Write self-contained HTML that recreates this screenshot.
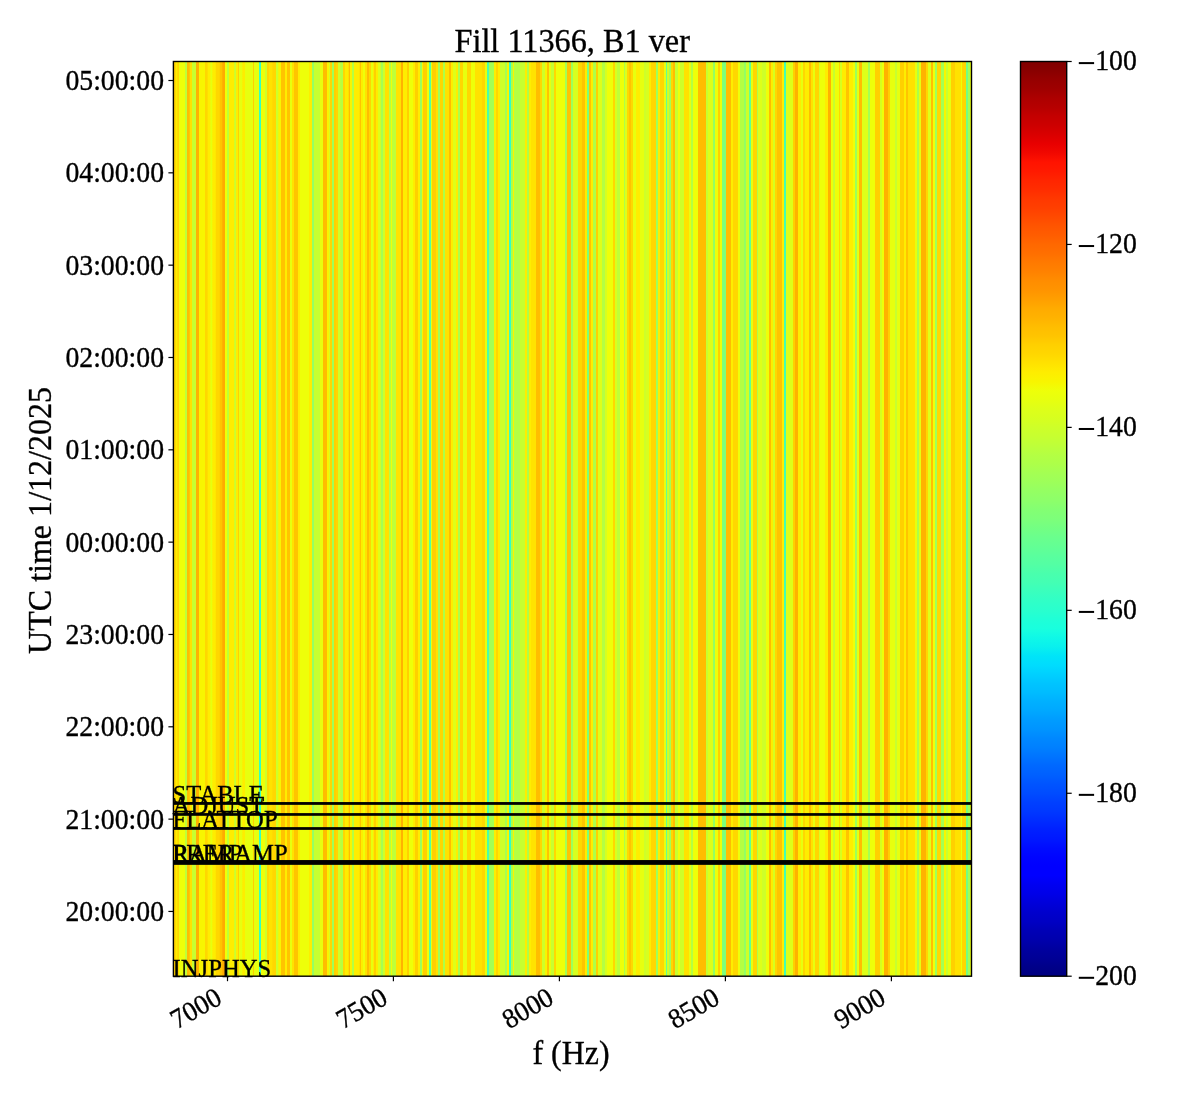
<!DOCTYPE html><html><head><meta charset="utf-8"><style>
html,body{margin:0;padding:0;background:#fff;width:1200px;height:1100px;overflow:hidden}
svg{display:block;will-change:transform}
text{font-family:"Liberation Serif",serif;fill:#000;stroke:#000;stroke-width:0.35px}
</style></head><body>
<svg width="1200" height="1100" viewBox="0 0 1200 1100">
<defs><linearGradient id="cb" x1="0" y1="0" x2="0" y2="1"><stop offset="0.00" stop-color="#800000"/><stop offset="0.01" stop-color="#890000"/><stop offset="0.02" stop-color="#960000"/><stop offset="0.03" stop-color="#9f0000"/><stop offset="0.04" stop-color="#ad0000"/><stop offset="0.05" stop-color="#b60000"/><stop offset="0.06" stop-color="#c40000"/><stop offset="0.07" stop-color="#cd0000"/><stop offset="0.08" stop-color="#da0000"/><stop offset="0.09" stop-color="#e80000"/><stop offset="0.10" stop-color="#f10800"/><stop offset="0.11" stop-color="#ff1300"/><stop offset="0.12" stop-color="#ff1a00"/><stop offset="0.13" stop-color="#ff2500"/><stop offset="0.14" stop-color="#ff2d00"/><stop offset="0.15" stop-color="#ff3800"/><stop offset="0.16" stop-color="#ff3f00"/><stop offset="0.17" stop-color="#ff4a00"/><stop offset="0.18" stop-color="#ff5500"/><stop offset="0.19" stop-color="#ff5d00"/><stop offset="0.20" stop-color="#ff6800"/><stop offset="0.21" stop-color="#ff6f00"/><stop offset="0.22" stop-color="#ff7a00"/><stop offset="0.23" stop-color="#ff8200"/><stop offset="0.24" stop-color="#ff8d00"/><stop offset="0.25" stop-color="#ff9400"/><stop offset="0.26" stop-color="#ff9f00"/><stop offset="0.27" stop-color="#ffab00"/><stop offset="0.28" stop-color="#ffb200"/><stop offset="0.29" stop-color="#ffbd00"/><stop offset="0.30" stop-color="#ffc400"/><stop offset="0.31" stop-color="#ffd000"/><stop offset="0.32" stop-color="#ffd700"/><stop offset="0.33" stop-color="#ffe200"/><stop offset="0.34" stop-color="#feed00"/><stop offset="0.35" stop-color="#f8f500"/><stop offset="0.36" stop-color="#eeff09"/><stop offset="0.37" stop-color="#e7ff0f"/><stop offset="0.38" stop-color="#deff19"/><stop offset="0.39" stop-color="#d7ff1f"/><stop offset="0.40" stop-color="#ceff29"/><stop offset="0.41" stop-color="#c7ff30"/><stop offset="0.42" stop-color="#beff39"/><stop offset="0.43" stop-color="#b4ff43"/><stop offset="0.44" stop-color="#adff49"/><stop offset="0.45" stop-color="#a4ff53"/><stop offset="0.46" stop-color="#9dff5a"/><stop offset="0.47" stop-color="#94ff63"/><stop offset="0.48" stop-color="#8dff6a"/><stop offset="0.49" stop-color="#83ff73"/><stop offset="0.50" stop-color="#7dff7a"/><stop offset="0.51" stop-color="#73ff83"/><stop offset="0.52" stop-color="#6aff8d"/><stop offset="0.53" stop-color="#63ff94"/><stop offset="0.54" stop-color="#5aff9d"/><stop offset="0.55" stop-color="#53ffa4"/><stop offset="0.56" stop-color="#49ffad"/><stop offset="0.57" stop-color="#43ffb4"/><stop offset="0.58" stop-color="#39ffbe"/><stop offset="0.59" stop-color="#30ffc7"/><stop offset="0.60" stop-color="#29ffce"/><stop offset="0.61" stop-color="#1fffd7"/><stop offset="0.62" stop-color="#19ffde"/><stop offset="0.63" stop-color="#0ff8e7"/><stop offset="0.64" stop-color="#09f0ee"/><stop offset="0.65" stop-color="#00e4f8"/><stop offset="0.66" stop-color="#00dcfe"/><stop offset="0.67" stop-color="#00d0ff"/><stop offset="0.68" stop-color="#00c4ff"/><stop offset="0.69" stop-color="#00bcff"/><stop offset="0.70" stop-color="#00b0ff"/><stop offset="0.71" stop-color="#00a8ff"/><stop offset="0.72" stop-color="#009cff"/><stop offset="0.73" stop-color="#0094ff"/><stop offset="0.74" stop-color="#0088ff"/><stop offset="0.75" stop-color="#0080ff"/><stop offset="0.76" stop-color="#0074ff"/><stop offset="0.77" stop-color="#0068ff"/><stop offset="0.78" stop-color="#0060ff"/><stop offset="0.79" stop-color="#0054ff"/><stop offset="0.80" stop-color="#004cff"/><stop offset="0.81" stop-color="#0040ff"/><stop offset="0.82" stop-color="#0038ff"/><stop offset="0.83" stop-color="#002cff"/><stop offset="0.84" stop-color="#0020ff"/><stop offset="0.85" stop-color="#0018ff"/><stop offset="0.86" stop-color="#000cff"/><stop offset="0.87" stop-color="#0004ff"/><stop offset="0.88" stop-color="#0000ff"/><stop offset="0.89" stop-color="#0000ff"/><stop offset="0.90" stop-color="#0000f1"/><stop offset="0.91" stop-color="#0000e8"/><stop offset="0.92" stop-color="#0000da"/><stop offset="0.93" stop-color="#0000cd"/><stop offset="0.94" stop-color="#0000c4"/><stop offset="0.95" stop-color="#0000b6"/><stop offset="0.96" stop-color="#0000ad"/><stop offset="0.97" stop-color="#00009f"/><stop offset="0.98" stop-color="#000096"/><stop offset="0.99" stop-color="#000089"/><stop offset="1.00" stop-color="#000080"/></linearGradient>
<linearGradient id="st" x1="0" y1="0" x2="1" y2="0"><stop offset="0.0013" stop-color="#ffd000"/><stop offset="0.0023" stop-color="#ffd000"/><stop offset="0.0033" stop-color="#feed00"/><stop offset="0.0044" stop-color="#feed00"/><stop offset="0.0054" stop-color="#ffd700"/><stop offset="0.0065" stop-color="#ffd700"/><stop offset="0.0075" stop-color="#eeff09"/><stop offset="0.0140" stop-color="#eeff09"/><stop offset="0.0150" stop-color="#beff39"/><stop offset="0.0165" stop-color="#beff39"/><stop offset="0.0175" stop-color="#ffbd00"/><stop offset="0.0199" stop-color="#ffbd00"/><stop offset="0.0209" stop-color="#ffe200"/><stop offset="0.0228" stop-color="#ffe200"/><stop offset="0.0238" stop-color="#c7ff30"/><stop offset="0.0278" stop-color="#c7ff30"/><stop offset="0.0288" stop-color="#ffb200"/><stop offset="0.0316" stop-color="#ffb200"/><stop offset="0.0326" stop-color="#f8f500"/><stop offset="0.0391" stop-color="#f8f500"/><stop offset="0.0401" stop-color="#ffd700"/><stop offset="0.0424" stop-color="#ffd700"/><stop offset="0.0434" stop-color="#feed00"/><stop offset="0.0458" stop-color="#feed00"/><stop offset="0.0468" stop-color="#e7ff0f"/><stop offset="0.0483" stop-color="#e7ff0f"/><stop offset="0.0493" stop-color="#feed00"/><stop offset="0.0525" stop-color="#feed00"/><stop offset="0.0535" stop-color="#ffd700"/><stop offset="0.0575" stop-color="#ffd700"/><stop offset="0.0585" stop-color="#ffc400"/><stop offset="0.0608" stop-color="#ffc400"/><stop offset="0.0618" stop-color="#ffab00"/><stop offset="0.0642" stop-color="#ffab00"/><stop offset="0.0652" stop-color="#eeff09"/><stop offset="0.0667" stop-color="#eeff09"/><stop offset="0.0677" stop-color="#beff39"/><stop offset="0.0692" stop-color="#beff39"/><stop offset="0.0702" stop-color="#feed00"/><stop offset="0.0758" stop-color="#feed00"/><stop offset="0.0768" stop-color="#c7ff30"/><stop offset="0.0779" stop-color="#c7ff30"/><stop offset="0.0789" stop-color="#feed00"/><stop offset="0.0804" stop-color="#feed00"/><stop offset="0.0814" stop-color="#ffd000"/><stop offset="0.0817" stop-color="#ffd000"/><stop offset="0.0827" stop-color="#e7ff0f"/><stop offset="0.0859" stop-color="#e7ff0f"/><stop offset="0.0869" stop-color="#feed00"/><stop offset="0.0892" stop-color="#feed00"/><stop offset="0.0902" stop-color="#e7ff0f"/><stop offset="0.0992" stop-color="#e7ff0f"/><stop offset="0.1002" stop-color="#ffd000"/><stop offset="0.1005" stop-color="#ffd000"/><stop offset="0.1015" stop-color="#e7ff0f"/><stop offset="0.1068" stop-color="#e7ff0f"/><stop offset="0.1078" stop-color="#30ffc7"/><stop offset="0.1093" stop-color="#30ffc7"/><stop offset="0.1103" stop-color="#eeff09"/><stop offset="0.1143" stop-color="#eeff09"/><stop offset="0.1153" stop-color="#ceff29"/><stop offset="0.1168" stop-color="#ceff29"/><stop offset="0.1178" stop-color="#ffd700"/><stop offset="0.1193" stop-color="#ffd700"/><stop offset="0.1203" stop-color="#ffe200"/><stop offset="0.1235" stop-color="#ffe200"/><stop offset="0.1245" stop-color="#ffd700"/><stop offset="0.1281" stop-color="#ffd700"/><stop offset="0.1291" stop-color="#ceff29"/><stop offset="0.1310" stop-color="#ceff29"/><stop offset="0.1320" stop-color="#f8f500"/><stop offset="0.1343" stop-color="#f8f500"/><stop offset="0.1353" stop-color="#ffc400"/><stop offset="0.1393" stop-color="#ffc400"/><stop offset="0.1403" stop-color="#feed00"/><stop offset="0.1418" stop-color="#feed00"/><stop offset="0.1428" stop-color="#ffc400"/><stop offset="0.1456" stop-color="#ffc400"/><stop offset="0.1466" stop-color="#e7ff0f"/><stop offset="0.1481" stop-color="#e7ff0f"/><stop offset="0.1491" stop-color="#ffe200"/><stop offset="0.1506" stop-color="#ffe200"/><stop offset="0.1516" stop-color="#ffc400"/><stop offset="0.1556" stop-color="#ffc400"/><stop offset="0.1566" stop-color="#feed00"/><stop offset="0.1581" stop-color="#feed00"/><stop offset="0.1591" stop-color="#eeff09"/><stop offset="0.1694" stop-color="#eeff09"/><stop offset="0.1704" stop-color="#feed00"/><stop offset="0.1732" stop-color="#feed00"/><stop offset="0.1742" stop-color="#94ff63"/><stop offset="0.1757" stop-color="#94ff63"/><stop offset="0.1767" stop-color="#c7ff30"/><stop offset="0.1832" stop-color="#c7ff30"/><stop offset="0.1842" stop-color="#e7ff0f"/><stop offset="0.1869" stop-color="#e7ff0f"/><stop offset="0.1879" stop-color="#ffbd00"/><stop offset="0.1920" stop-color="#ffbd00"/><stop offset="0.1930" stop-color="#f8f500"/><stop offset="0.1945" stop-color="#f8f500"/><stop offset="0.1955" stop-color="#d7ff1f"/><stop offset="0.1957" stop-color="#d7ff1f"/><stop offset="0.1967" stop-color="#ffd700"/><stop offset="0.1982" stop-color="#ffd700"/><stop offset="0.1992" stop-color="#9dff5a"/><stop offset="0.1995" stop-color="#9dff5a"/><stop offset="0.2005" stop-color="#9dff5a"/><stop offset="0.2007" stop-color="#9dff5a"/><stop offset="0.2017" stop-color="#ffd000"/><stop offset="0.2032" stop-color="#ffd000"/><stop offset="0.2042" stop-color="#ffd700"/><stop offset="0.2057" stop-color="#ffd700"/><stop offset="0.2067" stop-color="#ceff29"/><stop offset="0.2087" stop-color="#ceff29"/><stop offset="0.2097" stop-color="#b4ff43"/><stop offset="0.2120" stop-color="#b4ff43"/><stop offset="0.2130" stop-color="#ffd700"/><stop offset="0.2145" stop-color="#ffd700"/><stop offset="0.2155" stop-color="#feed00"/><stop offset="0.2191" stop-color="#feed00"/><stop offset="0.2201" stop-color="#ffbd00"/><stop offset="0.2208" stop-color="#ffbd00"/><stop offset="0.2218" stop-color="#f8f500"/><stop offset="0.2233" stop-color="#f8f500"/><stop offset="0.2243" stop-color="#b4ff43"/><stop offset="0.2258" stop-color="#b4ff43"/><stop offset="0.2268" stop-color="#feed00"/><stop offset="0.2329" stop-color="#feed00"/><stop offset="0.2339" stop-color="#ffc400"/><stop offset="0.2346" stop-color="#ffc400"/><stop offset="0.2356" stop-color="#feed00"/><stop offset="0.2371" stop-color="#feed00"/><stop offset="0.2381" stop-color="#eeff09"/><stop offset="0.2396" stop-color="#eeff09"/><stop offset="0.2406" stop-color="#ffe200"/><stop offset="0.2421" stop-color="#ffe200"/><stop offset="0.2431" stop-color="#ffbd00"/><stop offset="0.2446" stop-color="#ffbd00"/><stop offset="0.2456" stop-color="#ffd700"/><stop offset="0.2471" stop-color="#ffd700"/><stop offset="0.2481" stop-color="#e7ff0f"/><stop offset="0.2496" stop-color="#e7ff0f"/><stop offset="0.2506" stop-color="#feed00"/><stop offset="0.2508" stop-color="#feed00"/><stop offset="0.2518" stop-color="#ffd000"/><stop offset="0.2534" stop-color="#ffd000"/><stop offset="0.2544" stop-color="#feed00"/><stop offset="0.2559" stop-color="#feed00"/><stop offset="0.2569" stop-color="#deff19"/><stop offset="0.2592" stop-color="#deff19"/><stop offset="0.2602" stop-color="#a4ff53"/><stop offset="0.2621" stop-color="#a4ff53"/><stop offset="0.2631" stop-color="#ceff29"/><stop offset="0.2646" stop-color="#ceff29"/><stop offset="0.2656" stop-color="#ffe200"/><stop offset="0.2696" stop-color="#ffe200"/><stop offset="0.2706" stop-color="#b4ff43"/><stop offset="0.2721" stop-color="#b4ff43"/><stop offset="0.2731" stop-color="#eeff09"/><stop offset="0.2734" stop-color="#eeff09"/><stop offset="0.2744" stop-color="#beff39"/><stop offset="0.2784" stop-color="#beff39"/><stop offset="0.2794" stop-color="#ffe200"/><stop offset="0.2847" stop-color="#ffe200"/><stop offset="0.2857" stop-color="#ffb200"/><stop offset="0.2872" stop-color="#ffb200"/><stop offset="0.2882" stop-color="#feed00"/><stop offset="0.2922" stop-color="#feed00"/><stop offset="0.2932" stop-color="#ffd000"/><stop offset="0.2947" stop-color="#ffd000"/><stop offset="0.2957" stop-color="#eeff09"/><stop offset="0.2997" stop-color="#eeff09"/><stop offset="0.3007" stop-color="#feed00"/><stop offset="0.3022" stop-color="#feed00"/><stop offset="0.3032" stop-color="#ffd000"/><stop offset="0.3060" stop-color="#ffd000"/><stop offset="0.3070" stop-color="#feed00"/><stop offset="0.3085" stop-color="#feed00"/><stop offset="0.3095" stop-color="#9dff5a"/><stop offset="0.3110" stop-color="#9dff5a"/><stop offset="0.3120" stop-color="#f8f500"/><stop offset="0.3122" stop-color="#f8f500"/><stop offset="0.3132" stop-color="#ffd000"/><stop offset="0.3173" stop-color="#ffd000"/><stop offset="0.3183" stop-color="#eeff09"/><stop offset="0.3198" stop-color="#eeff09"/><stop offset="0.3208" stop-color="#53ffa4"/><stop offset="0.3223" stop-color="#53ffa4"/><stop offset="0.3233" stop-color="#e7ff0f"/><stop offset="0.3235" stop-color="#e7ff0f"/><stop offset="0.3245" stop-color="#ffd000"/><stop offset="0.3285" stop-color="#ffd000"/><stop offset="0.3295" stop-color="#ffe200"/><stop offset="0.3310" stop-color="#ffe200"/><stop offset="0.3320" stop-color="#9dff5a"/><stop offset="0.3335" stop-color="#9dff5a"/><stop offset="0.3345" stop-color="#ffd700"/><stop offset="0.3373" stop-color="#ffd700"/><stop offset="0.3383" stop-color="#adff49"/><stop offset="0.3398" stop-color="#adff49"/><stop offset="0.3408" stop-color="#ffe200"/><stop offset="0.3448" stop-color="#ffe200"/><stop offset="0.3458" stop-color="#ffbd00"/><stop offset="0.3473" stop-color="#ffbd00"/><stop offset="0.3483" stop-color="#feed00"/><stop offset="0.3498" stop-color="#feed00"/><stop offset="0.3508" stop-color="#deff19"/><stop offset="0.3536" stop-color="#deff19"/><stop offset="0.3546" stop-color="#feed00"/><stop offset="0.3561" stop-color="#feed00"/><stop offset="0.3571" stop-color="#adff49"/><stop offset="0.3586" stop-color="#adff49"/><stop offset="0.3596" stop-color="#ffd700"/><stop offset="0.3624" stop-color="#ffd700"/><stop offset="0.3634" stop-color="#e7ff0f"/><stop offset="0.3674" stop-color="#e7ff0f"/><stop offset="0.3684" stop-color="#ffd700"/><stop offset="0.3724" stop-color="#ffd700"/><stop offset="0.3734" stop-color="#eeff09"/><stop offset="0.3774" stop-color="#eeff09"/><stop offset="0.3784" stop-color="#ffe200"/><stop offset="0.3862" stop-color="#ffe200"/><stop offset="0.3872" stop-color="#ffd700"/><stop offset="0.3899" stop-color="#ffd700"/><stop offset="0.3909" stop-color="#e7ff0f"/><stop offset="0.3924" stop-color="#e7ff0f"/><stop offset="0.3934" stop-color="#49ffad"/><stop offset="0.3949" stop-color="#49ffad"/><stop offset="0.3959" stop-color="#a4ff53"/><stop offset="0.3999" stop-color="#a4ff53"/><stop offset="0.4010" stop-color="#a4ff53"/><stop offset="0.4012" stop-color="#a4ff53"/><stop offset="0.4022" stop-color="#feed00"/><stop offset="0.4037" stop-color="#feed00"/><stop offset="0.4047" stop-color="#ffd700"/><stop offset="0.4062" stop-color="#ffd700"/><stop offset="0.4072" stop-color="#feed00"/><stop offset="0.4087" stop-color="#feed00"/><stop offset="0.4097" stop-color="#ceff29"/><stop offset="0.4150" stop-color="#ceff29"/><stop offset="0.4160" stop-color="#a4ff53"/><stop offset="0.4175" stop-color="#a4ff53"/><stop offset="0.4185" stop-color="#f8f500"/><stop offset="0.4200" stop-color="#f8f500"/><stop offset="0.4210" stop-color="#30ffc7"/><stop offset="0.4225" stop-color="#30ffc7"/><stop offset="0.4235" stop-color="#adff49"/><stop offset="0.4250" stop-color="#adff49"/><stop offset="0.4260" stop-color="#f8f500"/><stop offset="0.4263" stop-color="#f8f500"/><stop offset="0.4273" stop-color="#b4ff43"/><stop offset="0.4338" stop-color="#b4ff43"/><stop offset="0.4348" stop-color="#c7ff30"/><stop offset="0.4400" stop-color="#c7ff30"/><stop offset="0.4410" stop-color="#feed00"/><stop offset="0.4426" stop-color="#feed00"/><stop offset="0.4436" stop-color="#adff49"/><stop offset="0.4451" stop-color="#adff49"/><stop offset="0.4461" stop-color="#feed00"/><stop offset="0.4476" stop-color="#feed00"/><stop offset="0.4486" stop-color="#ffe200"/><stop offset="0.4538" stop-color="#ffe200"/><stop offset="0.4548" stop-color="#ffbd00"/><stop offset="0.4588" stop-color="#ffbd00"/><stop offset="0.4598" stop-color="#ffd700"/><stop offset="0.4613" stop-color="#ffd700"/><stop offset="0.4623" stop-color="#ceff29"/><stop offset="0.4651" stop-color="#ceff29"/><stop offset="0.4661" stop-color="#f8f500"/><stop offset="0.4676" stop-color="#f8f500"/><stop offset="0.4686" stop-color="#ffc400"/><stop offset="0.4701" stop-color="#ffc400"/><stop offset="0.4711" stop-color="#e7ff0f"/><stop offset="0.4726" stop-color="#e7ff0f"/><stop offset="0.4736" stop-color="#c7ff30"/><stop offset="0.4764" stop-color="#c7ff30"/><stop offset="0.4774" stop-color="#ffd700"/><stop offset="0.4789" stop-color="#ffd700"/><stop offset="0.4799" stop-color="#eeff09"/><stop offset="0.4902" stop-color="#eeff09"/><stop offset="0.4912" stop-color="#a4ff53"/><stop offset="0.4927" stop-color="#a4ff53"/><stop offset="0.4937" stop-color="#ffc400"/><stop offset="0.4977" stop-color="#ffc400"/><stop offset="0.4987" stop-color="#9dff5a"/><stop offset="0.5002" stop-color="#9dff5a"/><stop offset="0.5012" stop-color="#d7ff1f"/><stop offset="0.5065" stop-color="#d7ff1f"/><stop offset="0.5075" stop-color="#ffd700"/><stop offset="0.5115" stop-color="#ffd700"/><stop offset="0.5125" stop-color="#ffc400"/><stop offset="0.5152" stop-color="#ffc400"/><stop offset="0.5162" stop-color="#feed00"/><stop offset="0.5177" stop-color="#feed00"/><stop offset="0.5187" stop-color="#7dff7a"/><stop offset="0.5202" stop-color="#7dff7a"/><stop offset="0.5212" stop-color="#ffc400"/><stop offset="0.5227" stop-color="#ffc400"/><stop offset="0.5237" stop-color="#feed00"/><stop offset="0.5252" stop-color="#feed00"/><stop offset="0.5262" stop-color="#adff49"/><stop offset="0.5290" stop-color="#adff49"/><stop offset="0.5300" stop-color="#ffd000"/><stop offset="0.5315" stop-color="#ffd000"/><stop offset="0.5325" stop-color="#deff19"/><stop offset="0.5365" stop-color="#deff19"/><stop offset="0.5375" stop-color="#b4ff43"/><stop offset="0.5403" stop-color="#b4ff43"/><stop offset="0.5413" stop-color="#d7ff1f"/><stop offset="0.5428" stop-color="#d7ff1f"/><stop offset="0.5438" stop-color="#eeff09"/><stop offset="0.5503" stop-color="#eeff09"/><stop offset="0.5513" stop-color="#ffd700"/><stop offset="0.5528" stop-color="#ffd700"/><stop offset="0.5538" stop-color="#d7ff1f"/><stop offset="0.5553" stop-color="#d7ff1f"/><stop offset="0.5563" stop-color="#beff39"/><stop offset="0.5591" stop-color="#beff39"/><stop offset="0.5601" stop-color="#eeff09"/><stop offset="0.5641" stop-color="#eeff09"/><stop offset="0.5651" stop-color="#adff49"/><stop offset="0.5653" stop-color="#adff49"/><stop offset="0.5663" stop-color="#deff19"/><stop offset="0.5678" stop-color="#deff19"/><stop offset="0.5689" stop-color="#ffd700"/><stop offset="0.5704" stop-color="#ffd700"/><stop offset="0.5714" stop-color="#ffc400"/><stop offset="0.5729" stop-color="#ffc400"/><stop offset="0.5739" stop-color="#ffd700"/><stop offset="0.5754" stop-color="#ffd700"/><stop offset="0.5764" stop-color="#e7ff0f"/><stop offset="0.5791" stop-color="#e7ff0f"/><stop offset="0.5801" stop-color="#feed00"/><stop offset="0.5841" stop-color="#feed00"/><stop offset="0.5851" stop-color="#e7ff0f"/><stop offset="0.5891" stop-color="#e7ff0f"/><stop offset="0.5902" stop-color="#ceff29"/><stop offset="0.5917" stop-color="#ceff29"/><stop offset="0.5927" stop-color="#d7ff1f"/><stop offset="0.5954" stop-color="#d7ff1f"/><stop offset="0.5964" stop-color="#feed00"/><stop offset="0.5979" stop-color="#feed00"/><stop offset="0.5989" stop-color="#ffd700"/><stop offset="0.6004" stop-color="#ffd700"/><stop offset="0.6014" stop-color="#ffd700"/><stop offset="0.6042" stop-color="#ffd700"/><stop offset="0.6052" stop-color="#9dff5a"/><stop offset="0.6067" stop-color="#9dff5a"/><stop offset="0.6077" stop-color="#feed00"/><stop offset="0.6092" stop-color="#feed00"/><stop offset="0.6102" stop-color="#ffd700"/><stop offset="0.6142" stop-color="#ffd700"/><stop offset="0.6152" stop-color="#e7ff0f"/><stop offset="0.6167" stop-color="#e7ff0f"/><stop offset="0.6177" stop-color="#63ff94"/><stop offset="0.6180" stop-color="#63ff94"/><stop offset="0.6190" stop-color="#ceff29"/><stop offset="0.6205" stop-color="#ceff29"/><stop offset="0.6215" stop-color="#a4ff53"/><stop offset="0.6230" stop-color="#a4ff53"/><stop offset="0.6240" stop-color="#ffd700"/><stop offset="0.6255" stop-color="#ffd700"/><stop offset="0.6265" stop-color="#ffbd00"/><stop offset="0.6280" stop-color="#ffbd00"/><stop offset="0.6290" stop-color="#c7ff30"/><stop offset="0.6318" stop-color="#c7ff30"/><stop offset="0.6328" stop-color="#eeff09"/><stop offset="0.6343" stop-color="#eeff09"/><stop offset="0.6353" stop-color="#ceff29"/><stop offset="0.6393" stop-color="#ceff29"/><stop offset="0.6403" stop-color="#ffe200"/><stop offset="0.6455" stop-color="#ffe200"/><stop offset="0.6465" stop-color="#e7ff0f"/><stop offset="0.6480" stop-color="#e7ff0f"/><stop offset="0.6490" stop-color="#b4ff43"/><stop offset="0.6505" stop-color="#b4ff43"/><stop offset="0.6515" stop-color="#eeff09"/><stop offset="0.6568" stop-color="#eeff09"/><stop offset="0.6578" stop-color="#ffbd00"/><stop offset="0.6668" stop-color="#ffbd00"/><stop offset="0.6678" stop-color="#c7ff30"/><stop offset="0.6693" stop-color="#c7ff30"/><stop offset="0.6703" stop-color="#deff19"/><stop offset="0.6756" stop-color="#deff19"/><stop offset="0.6766" stop-color="#94ff63"/><stop offset="0.6781" stop-color="#94ff63"/><stop offset="0.6791" stop-color="#eeff09"/><stop offset="0.6819" stop-color="#eeff09"/><stop offset="0.6829" stop-color="#ffd000"/><stop offset="0.6844" stop-color="#ffd000"/><stop offset="0.6854" stop-color="#eeff09"/><stop offset="0.6869" stop-color="#eeff09"/><stop offset="0.6879" stop-color="#7dff7a"/><stop offset="0.6919" stop-color="#7dff7a"/><stop offset="0.6929" stop-color="#ffbd00"/><stop offset="0.6982" stop-color="#ffbd00"/><stop offset="0.6992" stop-color="#feed00"/><stop offset="0.7007" stop-color="#feed00"/><stop offset="0.7017" stop-color="#ffd700"/><stop offset="0.7069" stop-color="#ffd700"/><stop offset="0.7079" stop-color="#eeff09"/><stop offset="0.7094" stop-color="#eeff09"/><stop offset="0.7104" stop-color="#b4ff43"/><stop offset="0.7144" stop-color="#b4ff43"/><stop offset="0.7154" stop-color="#94ff63"/><stop offset="0.7170" stop-color="#94ff63"/><stop offset="0.7180" stop-color="#ceff29"/><stop offset="0.7207" stop-color="#ceff29"/><stop offset="0.7217" stop-color="#63ff94"/><stop offset="0.7232" stop-color="#63ff94"/><stop offset="0.7242" stop-color="#e7ff0f"/><stop offset="0.7257" stop-color="#e7ff0f"/><stop offset="0.7267" stop-color="#ffd700"/><stop offset="0.7307" stop-color="#ffd700"/><stop offset="0.7317" stop-color="#adff49"/><stop offset="0.7320" stop-color="#adff49"/><stop offset="0.7330" stop-color="#deff19"/><stop offset="0.7370" stop-color="#deff19"/><stop offset="0.7380" stop-color="#ceff29"/><stop offset="0.7420" stop-color="#ceff29"/><stop offset="0.7430" stop-color="#eeff09"/><stop offset="0.7458" stop-color="#eeff09"/><stop offset="0.7468" stop-color="#ffbd00"/><stop offset="0.7483" stop-color="#ffbd00"/><stop offset="0.7493" stop-color="#feed00"/><stop offset="0.7508" stop-color="#feed00"/><stop offset="0.7518" stop-color="#d7ff1f"/><stop offset="0.7533" stop-color="#d7ff1f"/><stop offset="0.7543" stop-color="#ffd700"/><stop offset="0.7558" stop-color="#ffd700"/><stop offset="0.7568" stop-color="#ffc400"/><stop offset="0.7621" stop-color="#ffc400"/><stop offset="0.7631" stop-color="#feed00"/><stop offset="0.7646" stop-color="#feed00"/><stop offset="0.7656" stop-color="#43ffb4"/><stop offset="0.7671" stop-color="#43ffb4"/><stop offset="0.7681" stop-color="#deff19"/><stop offset="0.7758" stop-color="#deff19"/><stop offset="0.7768" stop-color="#ffd000"/><stop offset="0.7783" stop-color="#ffd000"/><stop offset="0.7794" stop-color="#ffb200"/><stop offset="0.7821" stop-color="#ffb200"/><stop offset="0.7831" stop-color="#feed00"/><stop offset="0.7859" stop-color="#feed00"/><stop offset="0.7869" stop-color="#e7ff0f"/><stop offset="0.7884" stop-color="#e7ff0f"/><stop offset="0.7894" stop-color="#ffd700"/><stop offset="0.7909" stop-color="#ffd700"/><stop offset="0.7919" stop-color="#feed00"/><stop offset="0.7959" stop-color="#feed00"/><stop offset="0.7969" stop-color="#ffbd00"/><stop offset="0.7984" stop-color="#ffbd00"/><stop offset="0.7994" stop-color="#ffe200"/><stop offset="0.8009" stop-color="#ffe200"/><stop offset="0.8019" stop-color="#e7ff0f"/><stop offset="0.8034" stop-color="#e7ff0f"/><stop offset="0.8044" stop-color="#ffd700"/><stop offset="0.8084" stop-color="#ffd700"/><stop offset="0.8094" stop-color="#d7ff1f"/><stop offset="0.8097" stop-color="#d7ff1f"/><stop offset="0.8107" stop-color="#eeff09"/><stop offset="0.8159" stop-color="#eeff09"/><stop offset="0.8169" stop-color="#feed00"/><stop offset="0.8197" stop-color="#feed00"/><stop offset="0.8207" stop-color="#ffb200"/><stop offset="0.8235" stop-color="#ffb200"/><stop offset="0.8245" stop-color="#eeff09"/><stop offset="0.8260" stop-color="#eeff09"/><stop offset="0.8270" stop-color="#c7ff30"/><stop offset="0.8285" stop-color="#c7ff30"/><stop offset="0.8295" stop-color="#eeff09"/><stop offset="0.8335" stop-color="#eeff09"/><stop offset="0.8345" stop-color="#ffd700"/><stop offset="0.8347" stop-color="#ffd700"/><stop offset="0.8357" stop-color="#d7ff1f"/><stop offset="0.8372" stop-color="#d7ff1f"/><stop offset="0.8382" stop-color="#feed00"/><stop offset="0.8423" stop-color="#feed00"/><stop offset="0.8433" stop-color="#ffc400"/><stop offset="0.8460" stop-color="#ffc400"/><stop offset="0.8470" stop-color="#feed00"/><stop offset="0.8510" stop-color="#feed00"/><stop offset="0.8520" stop-color="#eeff09"/><stop offset="0.8535" stop-color="#eeff09"/><stop offset="0.8545" stop-color="#9dff5a"/><stop offset="0.8560" stop-color="#9dff5a"/><stop offset="0.8570" stop-color="#e7ff0f"/><stop offset="0.8585" stop-color="#e7ff0f"/><stop offset="0.8595" stop-color="#ffbd00"/><stop offset="0.8623" stop-color="#ffbd00"/><stop offset="0.8633" stop-color="#deff19"/><stop offset="0.8698" stop-color="#deff19"/><stop offset="0.8708" stop-color="#a4ff53"/><stop offset="0.8723" stop-color="#a4ff53"/><stop offset="0.8733" stop-color="#eeff09"/><stop offset="0.8786" stop-color="#eeff09"/><stop offset="0.8796" stop-color="#ffd000"/><stop offset="0.8849" stop-color="#ffd000"/><stop offset="0.8859" stop-color="#d7ff1f"/><stop offset="0.8874" stop-color="#d7ff1f"/><stop offset="0.8884" stop-color="#eeff09"/><stop offset="0.8899" stop-color="#eeff09"/><stop offset="0.8909" stop-color="#ffb200"/><stop offset="0.8949" stop-color="#ffb200"/><stop offset="0.8959" stop-color="#ffd000"/><stop offset="0.8974" stop-color="#ffd000"/><stop offset="0.8984" stop-color="#e7ff0f"/><stop offset="0.9011" stop-color="#e7ff0f"/><stop offset="0.9021" stop-color="#e7ff0f"/><stop offset="0.9036" stop-color="#e7ff0f"/><stop offset="0.9046" stop-color="#c7ff30"/><stop offset="0.9062" stop-color="#c7ff30"/><stop offset="0.9072" stop-color="#e7ff0f"/><stop offset="0.9099" stop-color="#e7ff0f"/><stop offset="0.9109" stop-color="#ffd000"/><stop offset="0.9149" stop-color="#ffd000"/><stop offset="0.9159" stop-color="#feed00"/><stop offset="0.9174" stop-color="#feed00"/><stop offset="0.9184" stop-color="#ffc400"/><stop offset="0.9199" stop-color="#ffc400"/><stop offset="0.9209" stop-color="#ffe200"/><stop offset="0.9287" stop-color="#ffe200"/><stop offset="0.9297" stop-color="#e7ff0f"/><stop offset="0.9312" stop-color="#e7ff0f"/><stop offset="0.9322" stop-color="#adff49"/><stop offset="0.9337" stop-color="#adff49"/><stop offset="0.9347" stop-color="#e7ff0f"/><stop offset="0.9362" stop-color="#e7ff0f"/><stop offset="0.9372" stop-color="#ffb200"/><stop offset="0.9425" stop-color="#ffb200"/><stop offset="0.9435" stop-color="#ffd700"/><stop offset="0.9450" stop-color="#ffd700"/><stop offset="0.9460" stop-color="#deff19"/><stop offset="0.9488" stop-color="#deff19"/><stop offset="0.9498" stop-color="#ffbd00"/><stop offset="0.9513" stop-color="#ffbd00"/><stop offset="0.9523" stop-color="#eeff09"/><stop offset="0.9538" stop-color="#eeff09"/><stop offset="0.9548" stop-color="#9dff5a"/><stop offset="0.9563" stop-color="#9dff5a"/><stop offset="0.9573" stop-color="#ffd700"/><stop offset="0.9613" stop-color="#ffd700"/><stop offset="0.9623" stop-color="#a4ff53"/><stop offset="0.9650" stop-color="#a4ff53"/><stop offset="0.9660" stop-color="#f8f500"/><stop offset="0.9675" stop-color="#f8f500"/><stop offset="0.9686" stop-color="#c7ff30"/><stop offset="0.9701" stop-color="#c7ff30"/><stop offset="0.9711" stop-color="#e7ff0f"/><stop offset="0.9738" stop-color="#e7ff0f"/><stop offset="0.9748" stop-color="#ffd000"/><stop offset="0.9788" stop-color="#ffd000"/><stop offset="0.9798" stop-color="#ffe200"/><stop offset="0.9863" stop-color="#ffe200"/><stop offset="0.9873" stop-color="#eeff09"/><stop offset="0.9876" stop-color="#eeff09"/><stop offset="0.9886" stop-color="#ffd700"/><stop offset="0.9926" stop-color="#ffd700"/><stop offset="0.9936" stop-color="#73ff83"/><stop offset="0.9951" stop-color="#73ff83"/><stop offset="0.9961" stop-color="#a4ff53"/><stop offset="0.9976" stop-color="#a4ff53"/><stop offset="0.9986" stop-color="#e7ff0f"/><stop offset="0.9989" stop-color="#e7ff0f"/></linearGradient></defs>
<rect x="173.4" y="61.5" width="798.1" height="914.7" fill="url(#st)"/>
<rect x="173.4" y="802.05" width="798.1" height="2.8" fill="#000"/>
<rect x="173.4" y="813.1" width="798.1" height="2.7" fill="#000"/>
<rect x="173.4" y="827.125" width="798.1" height="2.75" fill="#000"/>
<rect x="173.4" y="860.05" width="798.1" height="4.8" fill="#000"/>
<text transform="translate(172.6,803.2) scale(0.956,1)" font-size="25.8">STABLE</text>
<text transform="translate(172.6,814) scale(0.956,1)" font-size="25.8">ADJUST</text>
<text transform="translate(172.6,828.1) scale(0.956,1)" font-size="25.8">FLATTOP</text>
<text transform="translate(172.6,861.7) scale(0.956,1)" font-size="25.8">RAMP</text>
<text transform="translate(172.6,861.7) scale(0.956,1)" font-size="25.8">PRERAMP</text>
<text transform="translate(172.6,976.7) scale(0.956,1)" font-size="25.8">INJPHYS</text>
<rect x="173.4" y="61.5" width="798.1" height="914.7" fill="none" stroke="#000" stroke-width="1.4"/>
<line x1="168.4" y1="80.5" x2="173.4" y2="80.5" stroke="#000" stroke-width="1.2"/>
<text transform="translate(164,90.1) scale(0.96,1)" font-size="28.9" text-anchor="end">05:00:00</text>
<line x1="168.4" y1="172.83" x2="173.4" y2="172.83" stroke="#000" stroke-width="1.2"/>
<text transform="translate(164,182.43) scale(0.96,1)" font-size="28.9" text-anchor="end">04:00:00</text>
<line x1="168.4" y1="265.16" x2="173.4" y2="265.16" stroke="#000" stroke-width="1.2"/>
<text transform="translate(164,274.76) scale(0.96,1)" font-size="28.9" text-anchor="end">03:00:00</text>
<line x1="168.4" y1="357.49" x2="173.4" y2="357.49" stroke="#000" stroke-width="1.2"/>
<text transform="translate(164,367.09) scale(0.96,1)" font-size="28.9" text-anchor="end">02:00:00</text>
<line x1="168.4" y1="449.82" x2="173.4" y2="449.82" stroke="#000" stroke-width="1.2"/>
<text transform="translate(164,459.42) scale(0.96,1)" font-size="28.9" text-anchor="end">01:00:00</text>
<line x1="168.4" y1="542.14" x2="173.4" y2="542.14" stroke="#000" stroke-width="1.2"/>
<text transform="translate(164,551.74) scale(0.96,1)" font-size="28.9" text-anchor="end">00:00:00</text>
<line x1="168.4" y1="634.47" x2="173.4" y2="634.47" stroke="#000" stroke-width="1.2"/>
<text transform="translate(164,644.07) scale(0.96,1)" font-size="28.9" text-anchor="end">23:00:00</text>
<line x1="168.4" y1="726.8" x2="173.4" y2="726.8" stroke="#000" stroke-width="1.2"/>
<text transform="translate(164,736.4) scale(0.96,1)" font-size="28.9" text-anchor="end">22:00:00</text>
<line x1="168.4" y1="819.13" x2="173.4" y2="819.13" stroke="#000" stroke-width="1.2"/>
<text transform="translate(164,828.73) scale(0.96,1)" font-size="28.9" text-anchor="end">21:00:00</text>
<line x1="168.4" y1="911.45" x2="173.4" y2="911.45" stroke="#000" stroke-width="1.2"/>
<text transform="translate(164,921.05) scale(0.96,1)" font-size="28.9" text-anchor="end">20:00:00</text>
<line x1="227.5" y1="976.2" x2="227.5" y2="981.2" stroke="#000" stroke-width="1.2"/>
<text transform="translate(223.5,1002.7) rotate(-30) scale(0.965,1)" font-size="27.8" text-anchor="end">7000</text>
<line x1="393.4" y1="976.2" x2="393.4" y2="981.2" stroke="#000" stroke-width="1.2"/>
<text transform="translate(389.4,1002.7) rotate(-30) scale(0.965,1)" font-size="27.8" text-anchor="end">7500</text>
<line x1="559.4" y1="976.2" x2="559.4" y2="981.2" stroke="#000" stroke-width="1.2"/>
<text transform="translate(555.4,1002.7) rotate(-30) scale(0.965,1)" font-size="27.8" text-anchor="end">8000</text>
<line x1="725.4" y1="976.2" x2="725.4" y2="981.2" stroke="#000" stroke-width="1.2"/>
<text transform="translate(721.4,1002.7) rotate(-30) scale(0.965,1)" font-size="27.8" text-anchor="end">8500</text>
<line x1="891.4" y1="976.2" x2="891.4" y2="981.2" stroke="#000" stroke-width="1.2"/>
<text transform="translate(887.4,1002.7) rotate(-30) scale(0.965,1)" font-size="27.8" text-anchor="end">9000</text>
<text transform="translate(572.2,51.9) scale(0.968,1)" font-size="33.33" text-anchor="middle">Fill 11366, B1 ver</text>
<text transform="translate(571,1064) scale(0.958,1)" font-size="33.33" text-anchor="middle">f (Hz)</text>
<text transform="translate(51,520.45) rotate(-90) scale(0.962,1)" font-size="33.33" text-anchor="middle">UTC time 1/12/2025</text>
<rect x="1020.5" y="61.5" width="46.2" height="914.7" fill="url(#cb)" stroke="#000" stroke-width="1.4"/>
<line x1="1066.7" y1="61.5" x2="1071.7" y2="61.5" stroke="#000" stroke-width="1.2"/>
<rect x="1078.8" y="62.1" width="15.3" height="2" fill="#000"/>
<text transform="translate(1136.8,69.8) scale(0.96,1)" font-size="28.9" text-anchor="end">100</text>
<line x1="1066.7" y1="244.44" x2="1071.7" y2="244.44" stroke="#000" stroke-width="1.2"/>
<rect x="1078.8" y="245.04" width="15.3" height="2" fill="#000"/>
<text transform="translate(1136.8,252.74) scale(0.96,1)" font-size="28.9" text-anchor="end">120</text>
<line x1="1066.7" y1="427.38" x2="1071.7" y2="427.38" stroke="#000" stroke-width="1.2"/>
<rect x="1078.8" y="427.98" width="15.3" height="2" fill="#000"/>
<text transform="translate(1136.8,435.68) scale(0.96,1)" font-size="28.9" text-anchor="end">140</text>
<line x1="1066.7" y1="610.32" x2="1071.7" y2="610.32" stroke="#000" stroke-width="1.2"/>
<rect x="1078.8" y="610.92" width="15.3" height="2" fill="#000"/>
<text transform="translate(1136.8,618.62) scale(0.96,1)" font-size="28.9" text-anchor="end">160</text>
<line x1="1066.7" y1="793.26" x2="1071.7" y2="793.26" stroke="#000" stroke-width="1.2"/>
<rect x="1078.8" y="793.86" width="15.3" height="2" fill="#000"/>
<text transform="translate(1136.8,801.56) scale(0.96,1)" font-size="28.9" text-anchor="end">180</text>
<line x1="1066.7" y1="976.2" x2="1071.7" y2="976.2" stroke="#000" stroke-width="1.2"/>
<rect x="1078.8" y="976.8" width="15.3" height="2" fill="#000"/>
<text transform="translate(1136.8,984.5) scale(0.96,1)" font-size="28.9" text-anchor="end">200</text>
</svg></body></html>
